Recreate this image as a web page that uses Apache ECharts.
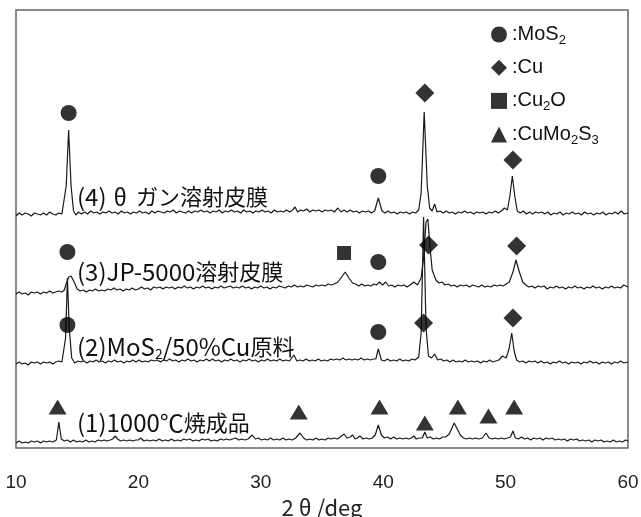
<!DOCTYPE html>
<html><head><meta charset="utf-8">
<script src="https://cdn.jsdelivr.net/npm/echarts@6/dist/echarts.min.js"></script>
<style>html,body{margin:0;padding:0;background:#fff}#c{width:641px;height:517px}</style>
</head><body><div id="c"></div>
<script>
// x axis (2θ / deg)
const xTicks = [10, 20, 30, 40, 50, 60];
// XRD traces, [2θ, intensity (offset, arbitrary units)]
const trace4 = [[10,232],[10.25,235],[10.5,233],[10.75,235],[11,234],[11.25,232],[11.5,235],[11.75,234],[12,233],[12.25,235],[12.5,233],[12.75,236],[13,234],[13.25,233],[13.5,235],[13.75,234],[13.9,236],[14.1,262],[14.3,318],[14.5,262],[14.7,237],[14.9,233],[15.1,236],[15.35,234],[15.6,236],[15.85,234],[16.1,237],[16.35,235],[16.6,236],[16.85,234],[17.1,236],[17.35,235],[17.6,237],[17.85,235],[18.1,236],[18.35,234],[18.6,237],[18.85,235],[19.1,236],[19.35,234],[19.6,236],[19.85,235],[20.1,237],[20.35,235],[20.6,236],[20.85,234],[21.1,237],[21.35,235],[21.6,237],[21.85,236],[22.1,235],[22.35,237],[22.6,236],[22.85,238],[23.1,235],[23.35,237],[23.6,236],[23.85,235],[24.1,237],[24.35,235],[24.6,237],[24.85,236],[25.1,238],[25.35,236],[25.6,237],[25.85,235],[26.1,237],[26.35,236],[26.6,238],[26.85,235],[27.1,237],[27.35,236],[27.6,238],[27.85,236],[28.1,237],[28.35,235],[28.6,238],[28.85,236],[29.1,237],[29.35,235],[29.6,237],[29.85,236],[30.1,238],[30.35,236],[30.6,237],[30.85,235],[31.1,238],[31.35,236],[31.6,237],[31.85,236],[32.1,238],[32.35,236],[32.6,238],[32.8,241],[33,236],[33.25,238],[33.5,237],[33.75,239],[34,236],[34.25,238],[34.5,237],[34.75,238],[35,236],[35.25,238],[35.5,237],[35.75,238],[36,236],[36.3,240],[36.55,236],[36.8,238],[37.05,236],[37.3,238],[37.55,236],[37.8,237],[38.05,235],[38.3,237],[38.55,236],[38.8,237],[39.05,235],[39.3,237],[39.6,250],[39.9,237],[40.15,235],[40.4,237],[40.65,235],[40.9,236],[41.15,234],[41.4,236],[41.65,235],[41.9,236],[42.15,234],[42.4,236],[42.65,235],[42.9,238],[43.1,255],[43.35,336],[43.6,262],[43.8,240],[44,237],[44.2,244],[44.4,236],[44.65,237],[44.9,235],[45.15,237],[45.4,235],[45.65,236],[45.9,234],[46.15,236],[46.4,235],[46.65,237],[46.9,235],[47.15,236],[47.4,234],[47.65,236],[47.9,235],[48.15,236],[48.4,234],[48.65,236],[48.9,235],[49.15,237],[49.4,235],[49.65,237],[49.9,240],[50.15,238],[50.35,252],[50.55,272],[50.75,252],[50.95,237],[51.2,235],[51.45,237],[51.7,234],[51.95,236],[52.2,234],[52.45,236],[52.7,235],[52.95,236],[53.2,234],[53.45,236],[53.7,233],[53.95,235],[54.2,234],[54.45,236],[54.7,233],[54.95,235],[55.2,234],[55.45,236],[55.7,234],[55.95,235],[56.2,233],[56.45,236],[56.7,234],[56.95,235],[57.2,233],[57.45,235],[57.7,234],[57.95,236],[58.2,233],[58.45,235],[58.7,234],[58.95,236],[59.2,234],[59.45,237],[59.7,234],[60,235]];
const trace3 = [[10,154],[10.25,156],[10.5,154],[10.75,155],[11,153],[11.25,156],[11.5,155],[11.75,156],[12,154],[12.25,156],[12.5,155],[12.75,157],[13,155],[13.25,156],[13.5,157],[13.75,156],[13.95,158],[14.1,164],[14.3,171],[14.5,172],[14.75,166],[15,159],[15.25,157],[15.5,158],[15.75,156],[16,158],[16.25,157],[16.5,159],[16.75,157],[17,158],[17.25,157],[17.5,159],[17.75,158],[18,160],[18.25,158],[18.5,159],[18.75,157],[19,159],[19.25,158],[19.5,160],[19.75,158],[20,159],[20.25,161],[20.5,159],[20.75,160],[21,158],[21.25,161],[21.5,160],[21.75,161],[22,159],[22.25,161],[22.5,160],[22.75,161],[23,159],[23.25,161],[23.5,160],[23.75,162],[24,160],[24.25,161],[24.5,159],[24.75,161],[25,160],[25.25,162],[25.5,160],[25.75,161],[26,159],[26.25,161],[26.5,160],[26.75,162],[27,160],[27.25,161],[27.5,162],[27.75,160],[28,161],[28.25,160],[28.5,162],[28.75,160],[29,161],[29.25,159],[29.5,161],[29.75,160],[30,162],[30.25,160],[30.5,161],[30.75,159],[31,161],[31.25,160],[31.5,162],[31.75,161],[32,160],[32.25,162],[32.5,161],[32.75,163],[33,161],[33.25,162],[33.5,161],[33.75,163],[34,162],[34.25,161],[34.5,163],[34.75,162],[35,163],[35.25,162],[35.5,164],[35.75,163],[36,164],[36.3,166],[36.6,171],[36.9,176],[37.2,170],[37.5,165],[37.75,164],[38,162],[38.25,164],[38.5,162],[38.75,163],[39,162],[39.25,164],[39.45,163],[39.7,166],[39.95,163],[40.2,166],[40.45,162],[40.7,163],[40.95,161],[41.2,163],[41.45,162],[41.7,163],[41.95,161],[42.2,163],[42.5,166],[42.8,163],[43.1,170],[43.3,190],[43.5,226],[43.65,229],[43.8,205],[44,178],[44.3,168],[44.55,165],[44.8,166],[45.05,163],[45.3,164],[45.55,162],[45.8,163],[46.05,161],[46.3,163],[46.55,162],[46.8,163],[47.05,161],[47.3,163],[47.55,162],[47.8,161],[48.05,163],[48.3,161],[48.55,162],[48.8,161],[49.05,163],[49.3,162],[49.55,163],[49.8,162],[50.05,164],[50.3,166],[50.6,176],[50.85,188],[51.1,177],[51.4,166],[51.65,163],[51.9,161],[52.15,162],[52.4,160],[52.65,162],[52.9,161],[53.15,162],[53.4,159],[53.65,161],[53.9,160],[54.15,162],[54.4,160],[54.65,161],[54.9,159],[55.15,161],[55.4,160],[55.65,162],[55.9,160],[56.15,161],[56.4,159],[56.65,161],[56.9,160],[57.15,162],[57.4,160],[57.65,161],[57.9,159],[58.15,161],[58.4,160],[58.65,162],[58.9,160],[59.15,161],[59.4,160],[59.65,163],[60,161]];
const trace2 = [[10,84],[10.25,86],[10.5,84],[10.75,85],[11,83],[11.25,86],[11.5,85],[11.75,86],[12,84],[12.25,86],[12.5,85],[12.75,86],[13,84],[13.25,86],[13.5,87],[13.75,86],[13.9,88],[14.05,110],[14.2,170],[14.35,120],[14.55,90],[14.8,85],[15.05,87],[15.3,86],[15.55,87],[15.8,85],[16.05,87],[16.3,86],[16.55,88],[16.8,86],[17.05,87],[17.3,85],[17.55,87],[17.8,86],[18.05,88],[18.3,86],[18.55,87],[18.8,85],[19.05,87],[19.3,86],[19.55,88],[19.8,86],[20.05,88],[20.3,86],[20.55,87],[20.8,86],[21.05,88],[21.3,87],[21.55,88],[21.8,86],[22.05,88],[22.3,87],[22.55,89],[22.8,87],[23.05,88],[23.3,86],[23.55,88],[23.8,87],[24.05,89],[24.3,87],[24.55,88],[24.8,86],[25.05,88],[25.3,87],[25.55,89],[25.8,87],[26.05,89],[26.3,87],[26.55,88],[26.8,86],[27.05,88],[27.3,87],[27.55,89],[27.8,87],[28.05,88],[28.3,86],[28.55,88],[28.8,87],[29.05,89],[29.3,87],[29.55,88],[29.8,86],[30.05,88],[30.3,87],[30.55,89],[30.8,87],[31.05,88],[31.3,87],[31.55,89],[31.8,87],[32.05,88],[32.35,87],[32.7,93],[32.95,87],[33.2,88],[33.45,87],[33.7,89],[33.95,87],[34.2,88],[34.45,87],[34.7,89],[34.95,87],[35.2,88],[35.45,87],[35.7,89],[35.95,88],[36.2,89],[36.45,88],[36.7,90],[36.95,88],[37.2,89],[37.45,88],[37.7,89],[37.95,88],[38.2,90],[38.45,88],[38.7,89],[38.95,88],[39.2,89],[39.4,89],[39.6,99],[39.85,88],[40.1,87],[40.35,89],[40.6,87],[40.85,88],[41.1,87],[41.35,89],[41.6,87],[41.85,88],[42.1,87],[42.35,89],[42.6,88],[42.9,91],[43.1,115],[43.3,231],[43.5,120],[43.7,92],[43.95,90],[44.2,94],[44.45,88],[44.7,89],[44.95,87],[45.2,88],[45.45,86],[45.7,88],[45.95,86],[46.2,87],[46.45,86],[46.7,88],[46.95,86],[47.2,87],[47.45,86],[47.7,87],[47.95,85],[48.2,87],[48.45,86],[48.7,88],[48.95,86],[49.2,87],[49.45,88],[49.75,92],[50.05,90],[50.3,100],[50.5,115],[50.7,97],[50.9,88],[51.15,86],[51.4,87],[51.65,85],[51.9,87],[52.15,86],[52.4,87],[52.65,85],[52.9,87],[53.15,85],[53.4,86],[53.65,84],[53.9,86],[54.15,85],[54.4,87],[54.65,85],[54.9,86],[55.15,84],[55.4,86],[55.65,85],[55.9,86],[56.15,84],[56.4,86],[56.65,85],[56.9,87],[57.15,85],[57.4,86],[57.65,84],[57.9,86],[58.15,85],[58.4,86],[58.65,84],[58.9,86],[59.15,85],[59.4,87],[59.65,85],[60,86]];
const trace1 = [[10,5],[10.25,7],[10.5,5],[10.75,6],[11,5],[11.25,7],[11.5,6],[11.75,7],[12,5],[12.25,7],[12.5,6],[12.75,7],[13,6],[13.3,8],[13.5,26],[13.7,9],[13.95,7],[14.2,8],[14.45,6],[14.7,8],[14.95,6],[15.2,7],[15.45,6],[15.7,8],[15.95,6],[16.2,7],[16.45,6],[16.7,8],[16.95,7],[17.2,8],[17.45,7],[17.7,8],[17.9,9],[18.1,12],[18.3,9],[18.55,7],[18.8,8],[19.05,7],[19.3,8],[19.55,7],[19.8,8],[20,8],[20.2,10],[20.45,7],[20.7,8],[20.95,7],[21.2,8],[21.45,7],[21.7,9],[21.95,7],[22.2,8],[22.45,7],[22.7,9],[22.95,7],[23.2,8],[23.45,7],[23.7,9],[23.95,8],[24.2,9],[24.45,7],[24.7,8],[24.95,7],[25.2,9],[25.45,8],[25.7,9],[25.95,7],[26.2,8],[26.45,7],[26.7,9],[26.95,8],[27.2,9],[27.45,8],[27.7,9],[27.95,10],[28.2,8],[28.45,9],[28.7,8],[28.95,9],[29.3,13],[29.55,9],[29.8,10],[30.05,8],[30.3,9],[30.55,8],[30.8,10],[31.05,8],[31.3,9],[31.55,8],[31.8,10],[32.05,8],[32.3,9],[32.55,8],[32.85,10],[33.2,15],[33.5,10],[33.75,8],[34,9],[34.25,8],[34.5,10],[34.75,8],[35,9],[35.25,8],[35.5,10],[35.75,9],[36,10],[36.25,9],[36.5,11],[36.8,14],[37.05,10],[37.3,11],[37.5,13],[37.7,9],[37.9,10],[38.1,12],[38.35,9],[38.6,10],[38.85,9],[39.1,10],[39.35,13],[39.6,23],[39.85,13],[40.1,10],[40.35,11],[40.6,9],[40.85,11],[41.1,9],[41.35,10],[41.6,9],[41.85,10],[42.1,9],[42.3,10],[42.5,12],[42.7,9],[42.95,10],[43.2,10],[43.4,16],[43.6,10],[43.85,11],[44.1,9],[44.35,10],[44.6,9],[44.85,11],[45.1,11],[45.4,14],[45.8,25],[46.05,19],[46.3,13],[46.55,10],[46.8,9],[47.05,10],[47.3,9],[47.55,10],[47.8,9],[48.1,10],[48.4,15],[48.65,10],[48.9,9],[49.15,10],[49.4,9],[49.65,10],[49.9,9],[50.15,10],[50.4,11],[50.6,17],[50.8,10],[51.05,9],[51.3,11],[51.55,9],[51.8,10],[52.05,8],[52.3,10],[52.55,9],[52.8,10],[53.05,8],[53.3,10],[53.55,9],[53.8,10],[54.05,8],[54.3,9],[54.55,8],[54.8,9],[55.05,7],[55.3,9],[55.55,8],[55.8,9],[56.05,7],[56.3,8],[56.55,7],[56.8,8],[57.05,6],[57.3,8],[57.55,7],[57.8,8],[58.05,6],[58.3,7],[58.55,6],[58.8,8],[59.05,6],[59.3,7],[59.55,6],[59.8,8],[60,7]];
// phase markers [2θ, position]
const mos2Marks = [[14.3,335],[39.6,272],[14.2,196],[39.6,186],[14.2,123],[39.6,116]];
const cuMarks = [[43.4,355],[50.6,288],[43.7,203],[50.9,202],[43.3,125],[50.6,130]];
const cu2oMarks = [[36.8,195]];
const cumo2s3Marks = [[13.4,41],[33.1,36],[39.7,41],[43.4,25],[46.1,41],[48.6,32],[50.7,41]];
// phase names (legend) and trace labels
const phaseNames = ['MoS2', 'Cu', 'Cu2O', 'CuMo2S3'];
const phaseLabels = {MoS2: ':MoS{s|2}', Cu: ':Cu', Cu2O: ':Cu{s|2}O', CuMo2S3: ':CuMo{s|2}S{s|3}'};
const traceLabels = ['{a|(4)}{t|θ}ガン溶射皮膜', '{a|(3)JP-5000}溶射皮膜', '{a|(2)MoS}{s|2}{a|/50%Cu}原料', '{a|(1)1000℃}焼成品'];

const chart = echarts.init(document.getElementById('c'), null, {renderer: 'canvas'});
const JP = '"Noto Sans CJK JP", sans-serif';
const LAT = '"Liberation Sans", Arial, sans-serif';
const lineS = (name, data) => ({
  name, type: 'line', data, showSymbol: false, symbol: 'none', silent: true,
  lineStyle: {color: '#1a1a1a', width: 1.2}, animation: false, z: 2
});
const markS = (name, data, symbol, size) => ({
  name, type: 'scatter', data, symbol, symbolSize: size,
  itemStyle: {color: '#000'}, animation: false, z: 5
});
const labelCenters = [197, 272, 347, 423];
chart.setOption({
  animation: false,
  grid: {left: 16, right: 13, top: 10, bottom: 69, show: true, borderColor: '#666', borderWidth: 1.5,
    outerBoundsMode: 'none', containLabel: false},
  xAxis: {
    type: 'value', min: xTicks[0], max: xTicks[xTicks.length - 1], interval: 10,
    axisLine: {show: false}, axisTick: {show: false}, splitLine: {show: false},
    axisLabel: {fontSize: 19, color: '#222', fontFamily: LAT, margin: 25},
    name: '2{t|θ}/deg', nameLocation: 'middle', nameGap: 47,
    nameTextStyle: {fontSize: 22, color: '#222', fontFamily: JP, verticalAlign: 'top',
      rich: {t: {fontSize: 22, color: '#222', fontFamily: JP, padding: [0, 5, 0, 5]}}}
  },
  yAxis: {type: 'value', min: 0, max: 438, show: false, splitLine: {show: false}},
  legend: {
    data: phaseNames.map((n, i) => ({name: n, icon: ['circle', 'diamond', 'rect', 'triangle'][i]})),
    orient: 'vertical', left: 486, top: 17, itemWidth: 16, itemHeight: 16, itemGap: 8.7,
    selectedMode: false,
    formatter: n => phaseLabels[n],
    textStyle: {fontSize: 20, lineHeight: 24, color: '#111', fontFamily: LAT,
      rich: {s: {fontSize: 13, lineHeight: 12, padding: [12, 0, 0, 0], color: '#111', fontFamily: LAT}}}
  },
  graphic: traceLabels.map((t, i) => ({
    type: 'text', left: 77, top: labelCenters[i] - 12,
    style: {text: t, font: '22px ' + JP, fill: '#111',
      rich: {
        a: {font: '24px ' + JP, fill: '#111'},
        t: {font: '23px ' + JP, fill: '#111', padding: [0, 9, 0, 7]},
        s: {font: '14px ' + JP, fill: '#111', padding: [13, 0, 0, 0]}
      }}
  })),
  series: [
    lineS('t4', trace4), lineS('t3', trace3), lineS('t2', trace2), lineS('t1', trace1),
    markS('MoS2', mos2Marks, 'circle', 16),
    markS('Cu', cuMarks, 'diamond', 19),
    markS('Cu2O', cu2oMarks, 'rect', 14),
    markS('CuMo2S3', cumo2s3Marks, 'triangle', [18, 15])
  ]
});
</script>
</body></html>
